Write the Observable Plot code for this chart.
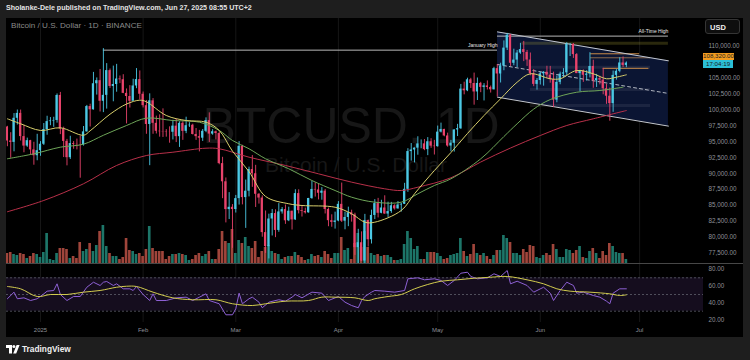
<!DOCTYPE html>
<html>
<head>
<meta charset="utf-8">
<script src="https://cdn.jsdelivr.net/npm/d3@7"></script>
<script src="https://cdn.jsdelivr.net/npm/@observablehq/plot@0.6"></script>
<style>
  html, body { margin:0; padding:0; background:#1e1e1e; }
  #root { position:relative; width:750px; height:360px; overflow:hidden; background:#1e1e1e; font-family:"Liberation Sans", Arial, sans-serif; }
  .abs { position:absolute; white-space:nowrap; }
  #panel { position:absolute; left:6px; top:18px; width:737px; height:319px; background:#000; overflow:hidden; }
  #panel > svg, #panel > div { position:absolute; }
</style>
</head>
<body>
<div id="root">
  <div class="abs" id="byline" style="left:6px;top:4px;font-size:7.1px;font-weight:700;color:#e4e4e4;">Sholanke-Dele published on TradingView.com, Jun 27, 2025 08:55 UTC+2</div>
  <div id="panel"></div>
  <div class="abs" id="footer" style="left:6px;top:344px;height:10px;display:flex;align-items:center;gap:2px;">
    <svg width="14" height="9" viewBox="0 0 14 9"><path d="M0 0h6v8.5h-3v-5.5h-3z" fill="#fff"/><circle cx="7.9" cy="1.6" r="1.5" fill="#fff"/><path d="M10.6 0h3l-3.4 8.5h-3z" fill="#fff"/></svg>
    <span style="font-size:8.3px;font-weight:600;color:#f0f0f0;">TradingView</span>
  </div>
</div>
<script>
// ---------------- DATA ----------------
// day index: -10 = 2024-12-22 ... 0 = 2025-01-01 ... 177 = 2025-06-27
const dayIndex = d3.range(-10, 178);
const opens = [
  97290,95100,94880,98660,99430,95790,94300,95150,93700,92790,
  93580,94590,96890,98140,98240,98320,102240,96950,95040,92480,94700,94570,94520,94500,96530,100500,99990,104080,104560,101330,102260,106140,103650,103960,104820,104710,102570,102080,101330,103730,104730,
  102430,100640,97690,101400,97870,96620,96560,96530,96480,96470,97430,95780,97870,96610,97500,97570,96120,95780,95540,96620,98300,96180,96550,96270,91550,88700,84340,84700,
  84350,86060,94270,86220,87220,90620,89960,86740,86150,80730,78530,82860,83720,81070,83970,84340,82580,84080,82720,86850,84170,84040,83830,86080,87500,87420,86900,87230,84350,82600,82330,
  82550,85160,82520,83100,83840,83500,78370,79140,76270,82620,79610,83420,85280,83760,84590,83640,84030,84940,84450,85060,85170,87520,93440,93690,93980,94640,94650,93750,94980,94290,
  94210,96490,96910,95890,94310,94750,96830,97030,103240,102970,104700,104120,102790,104130,103510,103740,103490,103130,106450,105610,106850,109670,111680,107290,107790,108890,109440,108990,107800,105640,103980,
  104590,105640,105880,105430,104730,101510,104290,105590,105790,110260,110270,108650,105670,106070,105410,105590,106790,104550,104880,104650,103300,102120,100960,105390,106030,107340,106950
];
const highs = [
  97400,96400,99400,99960,99950,97550,95550,95200,94900,96150,
  95000,97840,98980,98770,98820,102480,102720,97270,95350,95840,95000,95400,95850,97370,100680,100870,105860,104990,106320,109590,107240,106390,106850,107120,105290,105500,103260,103780,104780,106460,106090,
  102780,101460,102500,101750,99000,99200,100140,96880,97320,98350,98500,98120,98120,98830,97970,97730,97050,96760,96900,98730,99510,96880,96670,96500,92540,89300,87000,85120,
  86560,95000,94420,88970,91000,92810,91280,86850,86490,84120,83620,84360,84300,85280,84660,85050,84720,84100,87450,87440,84840,84570,86100,88770,88540,88290,87790,87500,84570,83520,83940,
  85590,88500,83930,84720,84240,83770,81240,80850,83590,82700,84250,85900,86100,85800,86500,85500,85470,85100,85600,85300,88460,93890,94700,94000,95760,95270,95330,95630,95460,95200,
  97440,97900,96940,96330,95200,96860,97710,103970,104320,104950,104930,105750,104980,104300,104100,104520,103720,106660,107100,107300,110800,111980,111800,109500,109300,110420,110720,109310,108900,106300,104900,
  105880,105980,106820,106800,105900,105300,105900,106450,110530,110400,110390,108800,106200,106250,106130,108950,107770,105550,105250,106500,104000,103400,106070,106290,108150,108280,107500
];
const lows = [
  94200,92400,93400,97600,95100,93250,94100,92900,91300,92000,
  92700,94400,96000,97500,97240,97900,96100,92500,91200,92200,93800,93700,89260,94300,96500,97300,99950,102300,99650,99550,100100,103340,101250,102750,104100,102520,97780,100270,101330,103300,101540,
  100280,96150,91230,96150,96200,95700,95650,95700,94750,95260,94850,94090,95200,96250,97230,96050,95200,93390,95030,96400,94870,96000,95270,91370,86050,82250,82780,78260,
  83800,85050,85080,81390,86330,87830,84670,85200,80000,77460,76600,80200,79940,80780,83630,82020,82450,81130,82640,83660,83170,83640,83780,85950,86300,85860,85810,83650,81650,81570,81280,
  82430,82320,81170,81660,82370,77150,74500,76200,74620,78460,78940,82770,83030,83680,83600,83110,83750,84250,84400,83950,85140,87050,91940,91660,92870,93880,93580,92800,93950,92900,
  94130,96360,95760,94130,93400,93360,95800,96900,102340,102840,103340,100720,101450,102680,101380,103100,102620,103100,102000,104200,106120,109290,106800,106900,106600,108690,107550,106800,105330,103620,103070,
  103880,103700,104930,104170,100370,101100,103920,105060,105330,108350,108050,105670,102820,104300,104500,104990,103370,103500,103900,102350,100850,98200,99600,104640,105800,106630,106600
];
const closes = [
  95100,94880,98660,99430,95790,94300,95150,93700,92790,93580,
  94590,96890,98140,98240,98320,102240,96950,95040,92480,94700,94570,94520,94500,96530,100500,99990,104080,104560,101330,102260,106140,103650,103960,104820,104710,102570,102080,101330,103730,104730,102430,
  100640,97690,101400,97870,96620,96560,96530,96480,96470,97430,95780,97870,96610,97500,97570,96120,95780,95540,96620,98300,96180,96550,96270,91550,88700,84340,84700,84350,
  86060,94270,86220,87220,90620,89960,86740,86150,80730,78530,82860,83720,81070,83970,84340,82580,84080,82720,86850,84170,84040,83830,86080,87500,87420,86900,87230,84350,82600,82330,82550,
  85160,82520,83100,83840,83500,78370,79140,76270,82620,79610,83420,85280,83760,84590,83640,84030,84940,84450,85060,85170,87520,93440,93690,93980,94640,94650,93750,94980,94290,94210,
  96490,96910,95890,94310,94750,96830,97030,103240,102970,104700,104120,102790,104130,103510,103740,103490,103130,106450,105610,106850,109670,111680,107290,107790,108890,109440,108990,107800,105640,103980,104590,
  105640,105880,105430,104730,101510,104290,105590,105790,110260,110270,108650,105670,106070,105410,105590,106790,104550,104880,104650,103300,102120,100960,105390,106030,107340,106950,107320
];
// volume, thousand BTC
const volumes = [
  10,11,9,8,10,9,5,7,10,9,
  6,11,30,4,3,10,15,15,14,5,7,5,21,12,14,20,12,18,32,38,17,10,7,7,4,6,25,13,12,9,10,
  7,14,37,15,12,12,12,4,7,9,9,10,9,8,3,4,8,10,7,9,12,4,4,14,32,22,20,34,
  10,23,20,26,17,15,22,6,12,16,18,12,10,9,4,6,7,7,11,8,6,3,4,9,7,8,6,12,9,5,10,
  10,26,13,15,4,20,30,16,32,16,10,8,9,7,8,8,6,3,3,4,19,32,25,14,17,4,4,11,11,11,
  10,7,4,5,8,9,10,25,12,7,9,19,10,8,10,7,4,8,13,13,28,25,21,10,10,8,14,11,18,17,6,
  5,8,10,8,19,14,6,6,14,13,10,13,17,6,5,12,15,10,5,12,8,20,17,11,10,10,4
];
// moving averages [day, price]
const ema20 = [[-10,98580],[-6,97800],[0,96750],[6,97170],[13,96000],[15,96700],[21,99300],[26,100900],[30,101500],[32,101250],[38,99100],[44,98310],[50,98050],[54,96750],[58,93500],[63,90300],[68,86400],[75,85250],[79,84980],[89,84710],[94,83680],[98,82360],[101,82360],[109,84200],[113,86820],[119,90470],[124,93290],[129,96280],[134,99100],[139,101720],[144,104320],[148,105640],[154,104860],[157,104860],[162,106160],[167,105640],[171,104860],[174,105110],[177,105480]];
const ema50 = [[-10,92310],[-2,93090],[6,94130],[13,94600],[19,96000],[26,97530],[32,98680],[40,98310],[48,98050],[54,96750],[58,95180],[63,93880],[68,92310],[75,90740],[82,88900],[89,87330],[94,86280],[101,85500],[109,85500],[114,86820],[119,88120],[124,89170],[133,92300],[140,95800],[144,97800],[149,100100],[154,101600],[162,102750],[169,103020],[176,103540]];
const ema100 = [[-10,84000],[1,85770],[13,88390],[23,91260],[32,92820],[40,93340],[50,93970],[54,93880],[63,92560],[74,91260],[84,89950],[94,88640],[104,87600],[109,87330],[114,87850],[124,89330],[133,91800],[142,94000],[151,95960],[159,97530],[167,98580],[177,99880]];
// RSI(14) and its moving average [day, value]
const rsi14 = [[-10,44.9],[-8,52.8],[-7,44.9],[-5,46],[-3,42.8],[-1,44.9],[1,50.8],[2,54],[4,54.8],[5,62.8],[6,50],[8,42.8],[10,47.6],[12,47.6],[14,58.7],[16,64.7],[18,60.8],[19,64.7],[20,65.6],[22,60.8],[23,62.8],[25,56.8],[27,56.8],[28,54.8],[29,59.6],[31,50],[33,42.8],[34,50.8],[35,42.8],[38,42.8],[41,46],[44,46.8],[46,42.8],[48,46.8],[50,50.8],[51,42.8],[54,38.9],[56,25.7],[58,25.7],[59,32.9],[60,51.6],[61,38.9],[63,44.9],[64,46.8],[66,40.8],[67,34.1],[69,40.8],[72,43.7],[74,42],[76,46.8],[77,50],[79,46],[82,52.8],[85,51.6],[87,42.8],[90,47.6],[92,40.8],[94,36.8],[96,34.1],[97,42.8],[98,47.6],[100,52.8],[101,54.8],[104,54],[107,52.8],[110,54.8],[111,68.8],[114,70],[116,67.6],[119,68.8],[121,66.8],[123,60.8],[125,66.8],[127,75.5],[129,76.7],[130,71.6],[132,68.8],[135,70],[137,74.8],[139,71.6],[141,78.7],[142,62.8],[144,65.9],[147,60.8],[149,52.8],[150,54.8],[152,58.7],[154,51.6],[155,42.8],[157,54.8],[159,64.7],[161,60.8],[162,51.6],[164,52.8],[167,48.8],[169,46.8],[171,42],[172,38.9],[173,51.6],[175,56.8],[177,56.8]];
const rsiMa = [[-10,59.6],[-6,56.8],[-1,47.6],[3,50],[8,50],[13,52.8],[18,54.8],[23,58.7],[26,59.9],[29,59.6],[34,52.8],[40,46],[46,43.7],[53,43.7],[58,38.9],[64,36.8],[68,38.9],[74,42],[81,42.8],[85,46.8],[89,46.8],[95,46],[99,42.8],[101,44.9],[105,47.6],[109,50],[113,56.8],[117,62],[121,65.9],[126,67.6],[131,69.5],[136,70.7],[141,71.6],[147,67.6],[152,62.8],[156,56.8],[160,54],[166,52.8],[172,50.8],[175,48.8],[177,49.6]];
// axes (107,500 is hidden behind the price tags in the reference)
const monthTicks = [0, 31, 59, 90, 120, 151, 181];
const monthLabels = ["2025", "Feb", "Mar", "Apr", "May", "Jun", "Jul"];
const priceTicks = [77500, 80000, 82500, 85000, 87500, 90000, 92500, 95000, 97500, 100000, 102500, 105000, 110000];
const rsiTicks = [20, 40, 60, 80];
const rsiLevels = [70, 50, 30];
const rsiBand = [30, 70];
// drawings
const channelDays = [138.07, 189.7];
const channelUpper = [112212, 107679];
const channelMid = [107090, 102557];
const channelLower = [101969, 97435];
const levelNames = ["January High", "All-Time High"];
const levelPrices = [109350, 111550];
const levelStart = [19, 138.07];
const levelEnd = [138.07, 189.7];
const zonePrices = [110440, 106675, 103180, 100670];
const zoneStart = [145.5, 148, 148, 148];
const zoneEnd = [189.7, 184.3, 184.3, 184.3];
const markPrices = [108780, 108150, 106500];
const markStart = [166.2, 166.2, 170];
const markEnd = [181, 184.3, 183.8];
const lastPrice = 108320;
const lastPriceLabel = "108,320.00";
const countdown = "17:04:19";

// ---------------- STYLE / LAYOUT ----------------
const FONT = '"Liberation Sans", Arial, sans-serif';
const UP = "#4cc8e4", DN = "#e8436b";
const VOL_UP = "#1d7669", VOL_DN = "#a0453b";
const GRID = "#161616", AX_TXT = "#8e9098";
const W = 737, PRICE_H = 245, RSI_H = 73, AXIS_W = 40;
const xDomain = [-10.272, 200.302];
const priceDomain = [75882, 114314];
const rsiDomain = [16.47, 85.93];

const candles = dayIndex.map((d, i) => ({d, o: opens[i], h: highs[i], l: lows[i], c: closes[i], v: volumes[i], up: closes[i] >= opens[i]}));
const channel = channelDays.map((d, i) => ({d, hi: channelUpper[i], mid: channelMid[i], lo: channelLower[i]}));
const levels = levelNames.map((name, i) => ({name, p: levelPrices[i], d1: levelStart[i], d2: levelEnd[i]}));
const zones = zonePrices.map((p, i) => ({p, d1: zoneStart[i], d2: zoneEnd[i], color: i === 0 ? "rgba(190,180,60,0.22)" : "rgba(255,255,255,0.07)"}));
const marksH = markPrices.map((p, i) => ({p, d1: markStart[i], d2: markEnd[i], color: i === 1 ? "#8c6a4c" : "#c98a48"}));

const panel = document.getElementById("panel");

// volume layer (bottom)
const volPlot = Plot.plot({
  width: W, height: PRICE_H, marginTop: 0, marginBottom: 0, marginLeft: 0, marginRight: AXIS_W,
  style: {background: "transparent"},
  x: {domain: xDomain, axis: null},
  y: {domain: [0, 100], range: [PRICE_H, PRICE_H - 100], axis: null},
  color: {type: "identity"},
  marks: [
    Plot.ruleX(monthTicks, {stroke: GRID, strokeWidth: 1}),
    Plot.rect(candles, {x1: c => c.d - 0.4, x2: c => c.d + 0.4, y1: 0, y2: "v", fill: c => c.up ? VOL_UP : VOL_DN})
  ]
});
volPlot.style.left = "0px"; volPlot.style.top = "0px";
panel.appendChild(volPlot);

// price layer
const pricePlot = Plot.plot({
  width: W, height: PRICE_H, marginTop: 0, marginBottom: 0, marginLeft: 0, marginRight: AXIS_W,
  style: {background: "transparent", fontFamily: FONT},
  x: {domain: xDomain, axis: null},
  y: {domain: priceDomain, range: [PRICE_H, 0]},
  color: {type: "identity"},
  marks: [
    Plot.text(["BTCUSD, 1D"], {text: d => d, frameAnchor: "middle", dx: -4, dy: -14, fontSize: 50, fill: "#171717", fontFamily: FONT}),
    Plot.text(["Bitcoin / U.S. Dollar"], {text: d => d, frameAnchor: "middle", dx: 1, dy: 24, fontSize: 21, fill: "#171717", fontFamily: FONT}),
    Plot.areaY(channel, {x: "d", y1: "lo", y2: "hi", fill: "#0b1533"}),
    Plot.ruleY(zones, {y: "p", x1: "d1", x2: "d2", stroke: "color", strokeWidth: 3}),
    Plot.ruleY(marksH, {y: "p", x1: "d1", x2: "d2", stroke: "color", strokeWidth: 1}),
    Plot.line(channel, {x: "d", y: "hi", stroke: "#c4c8d0", strokeWidth: 1}),
    Plot.line(channel, {x: "d", y: "lo", stroke: "#c4c8d0", strokeWidth: 1}),
    Plot.line(channel, {x: "d", y: "mid", stroke: "#c4c8d0", strokeWidth: 0.9, strokeDasharray: "3,3"}),
    Plot.ruleY(levels, {y: "p", x1: "d1", x2: "d2", stroke: "#b8b8b8", strokeWidth: 1}),
    Plot.text(levels, {x: "d2", y: "p", text: "name", textAnchor: "end", dy: -4.5, fontSize: 5, fill: "#e8e8e8", fontFamily: FONT}),
    Plot.ruleX(candles, {x: "d", y1: "l", y2: "h", stroke: c => c.up ? UP : DN, strokeWidth: 0.9}),
    Plot.rect(candles, {x1: c => c.d - 0.34, x2: c => c.d + 0.34, y1: "o", y2: "c", fill: c => c.up ? UP : DN}),
    Plot.line(ema100, {x: d => d[0], y: d => d[1], stroke: "#b83049", strokeWidth: 1, curve: "catmull-rom"}),
    Plot.line(ema50, {x: d => d[0], y: d => d[1], stroke: "#6ea558", strokeWidth: 1, curve: "catmull-rom"}),
    Plot.line(ema20, {x: d => d[0], y: d => d[1], stroke: "#d8cf6c", strokeWidth: 1, curve: "catmull-rom"}),
    Plot.axisY(priceTicks, {anchor: "right", tickSize: 0, tickPadding: 5, tickFormat: d3.format(",.2f"), fontSize: 6.3, fill: AX_TXT, fontFamily: FONT, label: null})
  ]
});
pricePlot.style.left = "0px"; pricePlot.style.top = "0px";
panel.appendChild(pricePlot);

// pane separator
const sep = document.createElement("div");
Object.assign(sep.style, {left: "0px", top: PRICE_H + "px", width: W + "px", height: "1px", background: "#474747"});
panel.appendChild(sep);

// RSI pane + date axis
const rsiPlot = Plot.plot({
  width: W, height: RSI_H, marginTop: 0, marginBottom: 15, marginLeft: 0, marginRight: AXIS_W,
  style: {background: "transparent", fontFamily: FONT},
  x: {domain: xDomain},
  y: {domain: rsiDomain, range: [58, 0]},
  marks: [
    Plot.ruleX(monthTicks, {stroke: GRID, strokeWidth: 1}),
    Plot.rect([rsiBand], {x1: xDomain[0], x2: xDomain[1], y1: d => d[0], y2: d => d[1], fill: "#150d1e"}),
    Plot.ruleY(rsiLevels, {stroke: "#5e5f6b", strokeWidth: 0.8, strokeDasharray: "2,2"}),
    Plot.line(rsi14, {x: d => d[0], y: d => d[1], stroke: "#8d60d4", strokeWidth: 1}),
    Plot.line(rsiMa, {x: d => d[0], y: d => d[1], stroke: "#d2cc4e", strokeWidth: 1, curve: "catmull-rom"}),
    Plot.axisY(rsiTicks, {anchor: "right", tickSize: 0, tickPadding: 5, tickFormat: d3.format(".2f"), fontSize: 6.3, fill: AX_TXT, fontFamily: FONT, label: null}),
    Plot.axisX(monthTicks, {anchor: "bottom", tickSize: 0, tickPadding: 5, tickFormat: d => monthLabels[monthTicks.indexOf(d)], fontSize: 6, fill: AX_TXT, fontFamily: FONT, label: null})
  ]
});
rsiPlot.style.left = "0px"; rsiPlot.style.top = (PRICE_H + 1) + "px";
panel.appendChild(rsiPlot);

// top-left header inside panel
const hdr = document.createElement("div");
hdr.textContent = "Bitcoin / U.S. Dollar · 1D · BINANCE";
Object.assign(hdr.style, {left: "5px", top: "3px", fontSize: "8.1px", color: "#8a8a8a", whiteSpace: "nowrap"});
panel.appendChild(hdr);

// currency box
const usd = document.createElement("div");
usd.textContent = "USD";
Object.assign(usd.style, {left: "699px", top: "1px", width: "35px", height: "15px", lineHeight: "15px", boxSizing: "border-box", border: "1px solid #353535", borderRadius: "3px", background: "#0e0e0e", color: "#f0f0f0", fontSize: "7.5px", fontWeight: "600", textIndent: "4px"});
panel.appendChild(usd);

// last price & countdown tags, positioned with the price scale
const yScale = pricePlot.scale("y");
const yp = yScale.apply(lastPrice);
const tag1 = document.createElement("div");
tag1.textContent = lastPriceLabel;
Object.assign(tag1.style, {left: (W - AXIS_W) + "px", top: (yp - 3.4) + "px", width: "31px", height: "6.8px", lineHeight: "6.8px", background: "#f39c1f", color: "#222", fontSize: "6.2px", textAlign: "center", overflow: "hidden"});
panel.appendChild(tag1);
const tag2 = document.createElement("div");
tag2.textContent = countdown;
Object.assign(tag2.style, {left: (W - AXIS_W) + "px", top: (yp + 3.4) + "px", width: "30px", height: "8px", lineHeight: "8px", background: "#2bbfd6", color: "#1a1a1a", fontSize: "6.2px", textAlign: "left", textIndent: "3px", overflow: "hidden"});
panel.appendChild(tag2);
</script>
</body>
</html>
